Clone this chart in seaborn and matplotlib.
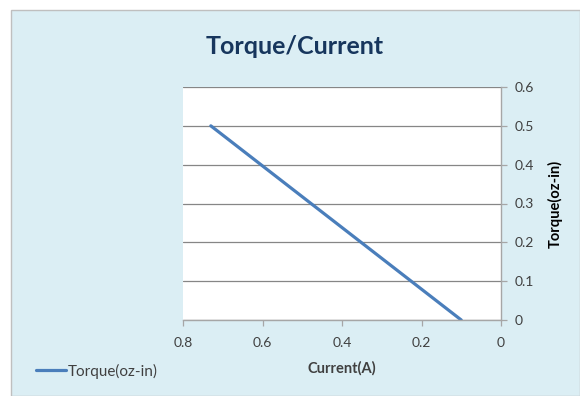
import matplotlib
matplotlib.use("Agg")
import matplotlib.pyplot as plt
import seaborn as sns
import pandas as pd
from matplotlib.patches import Rectangle

current = [0.73, 0.10]
torque = [0.50, 0.00]
series_name = "Torque(oz-in)"
x_ticks = [0.8, 0.6, 0.4, 0.2, 0.0]
x_tick_labels = ["0.8", "0.6", "0.4", "0.2", "0"]
y_ticks = [0.0, 0.1, 0.2, 0.3, 0.4, 0.5, 0.6]
y_tick_labels = ["0", "0.1", "0.2", "0.3", "0.4", "0.5", "0.6"]

df = pd.DataFrame({"Current(A)": current, series_name: torque})

sns.set_style("white")
plt.rcParams["font.family"] = ["Lato", "DejaVu Sans"]

bg = "#DBEEF4"
fig = plt.figure(figsize=(5.8, 3.96), dpi=100, facecolor="white")
bgrect = Rectangle((11/580, 0), 1 - 11/580, 1 - 10/396, transform=fig.transFigure,
                   facecolor=bg, edgecolor="#BFBFBF", linewidth=1.0, zorder=-5)
fig.add_artist(bgrect)

ax = fig.add_axes([183/580, 1 - 320/396, 318/580, 233/396])
ax.set_zorder(1)
ax.set_facecolor("white")
sns.lineplot(data=df, x="Current(A)", y=series_name, ax=ax, color="#4A7EBB",
             linewidth=2.3, label=series_name, legend=False)

ax.set_xlim(0.8, 0.0)
ax.set_ylim(0, 0.6)
ax.set_xticks(x_ticks)
ax.set_xticklabels(x_tick_labels)
ax.set_yticks(y_ticks)
ax.set_yticklabels(y_tick_labels)
ax.yaxis.tick_right()
ax.yaxis.set_label_position("right")
ax.grid(axis="y", color="#868686", linewidth=0.9)
ax.set_axisbelow(True)

for s in ["top", "left"]:
    ax.spines[s].set_visible(False)
for s in ["bottom", "right"]:
    ax.spines[s].set_color("#A6A6A6")
    ax.spines[s].set_linewidth(1.0)

ax.tick_params(axis="both", which="major", direction="out", length=4, width=0.9,
               color="#A6A6A6", labelsize=10, labelcolor="#404040", pad=4)
ax.tick_params(axis="x", pad=8, bottom=True)
ax.tick_params(axis="y", right=True, left=False, pad=6)

ax.set_xlabel("Current(A)", fontsize=10.5, fontweight="bold", color="#404040", labelpad=9)
ax.set_ylabel(series_name, fontsize=10.5, fontweight="bold", color="#000000", labelpad=10)

fig.text(295/580, 1 - 47/396, "Torque/Current", ha="center", va="center",
         fontsize=18, fontweight="bold", color="#17365D")

handles, labels = ax.get_legend_handles_labels()
fig.legend(handles, labels, loc="center left", bbox_to_anchor=(22/580, 1 - 371/396),
           frameon=False, fontsize=11, handlelength=2.0, handletextpad=0.1,
           labelcolor="#404040")

fig.savefig("out.png", dpi=100, facecolor="white")
